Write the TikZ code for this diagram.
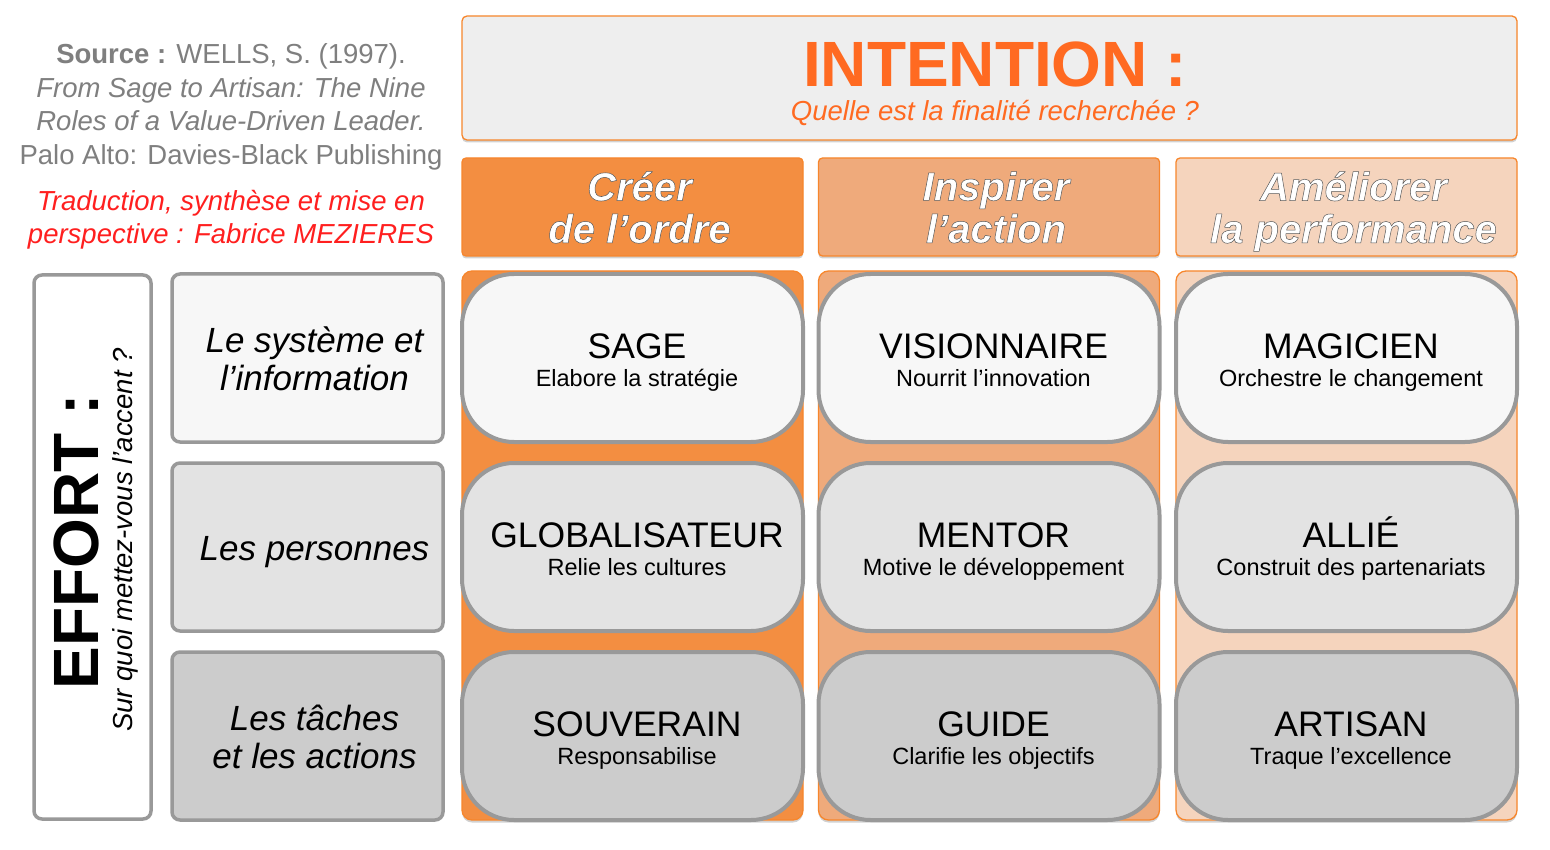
\documentclass[tikz,border=0pt]{standalone}
\usepackage{fontspec}
\setmainfont{Liberation Sans}
\usetikzlibrary{shadows}
\definecolor{orA}{HTML}{F38E41}
\definecolor{orB}{HTML}{EFAA7B}
\definecolor{orC}{HTML}{F5D4BD}
\definecolor{orline}{HTML}{F7862C}
\definecolor{intfill}{HTML}{EEEEEE}
\definecolor{inttext}{HTML}{FF6A21}
\definecolor{srcgray}{HTML}{7F7F7F}
\definecolor{srcred}{HTML}{FF1F1F}
\definecolor{boxline}{HTML}{999999}
\definecolor{rowA}{HTML}{F7F7F7}
\definecolor{rowB}{HTML}{E3E3E3}
\definecolor{rowC}{HTML}{CCCCCC}
% outlined white text: fill white, stroke grey (PDF text render mode 2)
\newcommand\hl[1]{\strut\special{pdf:code 2 Tr 0.5 w 0.35 0.35 0.35 RG}#1\special{pdf:code 0 Tr}}
\begin{document}
\begin{tikzpicture}[x=1pt,y=-1pt,
 softshadow/.style={drop shadow={shadow xshift=0pt,shadow yshift=-2.5pt,opacity=0.18,fill=black}},
 colbg/.style={draw=orline, line width=1.3pt, rounded corners=10pt, minimum width=341pt, minimum height=549pt, inner sep=0pt, softshadow},
 colhead/.style={draw=orline, line width=1.3pt, rounded corners=4pt, minimum width=341pt, minimum height=98pt, inner sep=0pt, softshadow},
 headtext/.style={inner sep=0pt, text=white, align=center, font=\fontsize{40}{41}\selectfont\bfseries\itshape},
 rolebox/.style={draw=boxline, line width=4pt, rounded corners=52pt, minimum width=341pt, minimum height=168pt, inner sep=0pt},
 roletitle/.style={inner sep=0pt, anchor=base, font=\fontsize{35.5}{40}\selectfont},
 rolesub/.style={inner sep=0pt, anchor=base, font=\fontsize{23.5}{28}\selectfont},
 rowlabel/.style={draw=boxline, line width=3.5pt, rounded corners=8pt, minimum width=271pt, minimum height=168pt, inner sep=0pt},
 rowtext/.style={inner sep=0pt, align=center, font=\fontsize{35}{38}\selectfont\itshape},
]
\useasboundingbox[fill=white] (0,0) rectangle (1550,850);

% source
\node[align=center, text=srcgray, font=\fontsize{27.5}{33.5}\selectfont] (src) at (231,107)
 {\textbf{Source :} WELLS, S. (1997).\\ \textit{From Sage to Artisan: The Nine}\\ \textit{Roles of a Value-Driven Leader.}\\ Palo Alto: Davies-Black Publishing};
\node[align=center, text=srcred, font=\fontsize{27.5}{33.5}\selectfont\itshape] (trad) at (231,219.5)
 {Traduction, synthèse et mise en\\ perspective : Fabrice MEZIERES};

% intention
\node[draw=orline, line width=1.3pt, fill=intfill, rounded corners=5pt, minimum width=1055pt, minimum height=124pt, softshadow] (intent) at (989.5,78) {};
\node[text=inttext, font=\fontsize{64}{70}\selectfont\bfseries, inner sep=0pt] (intitle) at (995,64) {INTENTION :};
\node[text=inttext, font=\fontsize{27.5}{30}\selectfont\itshape, inner sep=0pt, anchor=base] (insub) at (995,121) {Quelle est la finalité recherchée ?};

% column headers
\node[colhead, fill=orA] (h1) at (632.5,207) {};
\node[colhead, fill=orB] (h2) at (989,207) {};
\node[colhead, fill=orC] (h3) at (1346.5,207) {};
\node[headtext] (h1t) at ([xshift=7pt,yshift=-6.3pt]h1.center) {\hl{Créer}\\\hl{de l’ordre}};
\node[headtext] (h2t) at ([xshift=7pt,yshift=-6.3pt]h2.center) {\hl{Inspirer}\\\hl{l’action}};
\node[headtext] (h3t) at ([xshift=7pt,yshift=-6.3pt]h3.center) {\hl{Améliorer}\\\hl{la performance}};

% column backgrounds
\node[colbg, fill=orA] (c1) at (632.5,545.5) {};
\node[colbg, fill=orB] (c2) at (989,545.5) {};
\node[colbg, fill=orC] (c3) at (1346.5,545.5) {};

% effort
\node[draw=boxline, line width=3.5pt, rounded corners=8pt, fill=white, minimum width=117pt, minimum height=544pt] (effbox) at (92.5,547) {};
\node[rotate=90, font=\fontsize{64}{70}\selectfont\bfseries, inner sep=0pt] (efftitle) at (76,541.5) {EFFORT :};
\node[rotate=90, font=\fontsize{27.5}{30}\selectfont\itshape, inner sep=0pt] (effsub) at (125,540) {Sur quoi mettez-vous l’accent ?};

% row labels
\node[rowlabel, fill=rowA] (l1) at (307.5,358) {};
\node[rowlabel, fill=rowB] (l2) at (307.5,547) {};
\node[rowlabel, fill=rowC] (l3) at (307.5,736) {};
\node[rowtext] (l1t) at ([xshift=7pt,yshift=-5.4pt]l1.center) {\strut Le système et\\\strut l’information};
\node[rowtext] (l2t) at ([xshift=7pt,yshift=-5.4pt]l2.center) {\strut Les personnes};
\node[rowtext] (l3t) at ([xshift=7pt,yshift=-5.4pt]l3.center) {\strut Les tâches\\\strut et les actions};

% roles
\newcommand\rolecell[6]{%
 \node[rolebox, fill=#4] (#1) at (#2,#3) {};
 \node[roletitle] (#1t) at ([xshift=4.5pt]#1.center) {#5};
 \node[rolesub] (#1s) at ([xshift=4.5pt,yshift=-28pt]#1.center) {#6};
}
\rolecell{sage}{632.5}{358}{rowA}{SAGE}{Elabore la stratégie}
\rolecell{glob}{632.5}{547}{rowB}{GLOBALISATEUR}{Relie les cultures}
\rolecell{souv}{632.5}{736}{rowC}{SOUVERAIN}{Responsabilise}
\rolecell{visi}{989}{358}{rowA}{VISIONNAIRE}{Nourrit l’innovation}
\rolecell{ment}{989}{547}{rowB}{MENTOR}{Motive le développement}
\rolecell{guid}{989}{736}{rowC}{GUIDE}{Clarifie les objectifs}
\rolecell{magi}{1346.5}{358}{rowA}{MAGICIEN}{Orchestre le changement}
\rolecell{alli}{1346.5}{547}{rowB}{ALLIÉ}{Construit des partenariats}
\rolecell{arti}{1346.5}{736}{rowC}{ARTISAN}{Traque l’excellence}
\end{tikzpicture}
\end{document}
